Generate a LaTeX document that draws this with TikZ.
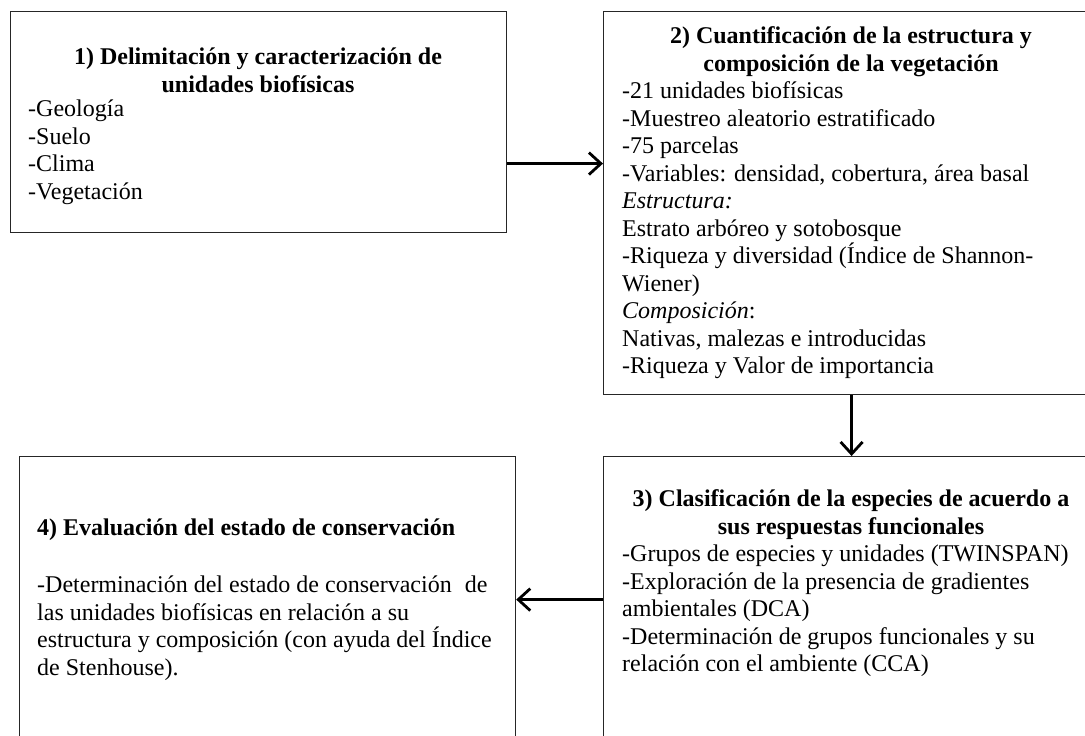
\documentclass[tikz,border=0pt]{standalone}
\usepackage{fontspec}
\setmainfont{Liberation Serif}
\usetikzlibrary{positioning,arrows.meta}

\begin{document}
\begin{tikzpicture}[x=1pt,y=1pt,
  caja/.style={draw=black!85, line width=1.2pt, minimum width=496pt, anchor=north west, inner sep=0pt},
  texto/.style={font=\fontsize{24}{27.5}\selectfont, inner sep=0pt, align=left, anchor=base west},
  titulo/.style={font=\bfseries\fontsize{24}{27.5}\selectfont, inner sep=0pt, align=center, anchor=base},
  flecha/.style={-{Straight Barb[length=12pt,width=22pt]}, line width=2.8pt}]
\useasboundingbox (0,0) rectangle (1085,736);
\clip (0,0) rectangle (1085,736);
% cajas
\node[caja, minimum height=221pt] (c1) at (10,725) {};
\node[caja, minimum height=383pt] (c2) at (603,725) {};
\node[caja, minimum height=286pt] (c3) at (603,280) {};
\node[caja, minimum height=286pt] (c4) at (19,280) {};
% textos (el ancla base va en la ultima linea)
\node[titulo] (t1) at (258,643.5) {1) Delimitación y caracterización de\\unidades biofísicas};
\node[texto] (l1) at (28,536.5) {-Geología\\-Suelo\\-Clima\\-Vegetación};
\node[titulo] (t2) at (851,664.5) {2) Cuantificación de la estructura y\\composición de la vegetación};
\node[texto] (l2) at (622,362) {-21 unidades biofísicas\\-Muestreo aleatorio estratificado\\-75 parcelas\\
  -Variables: densidad, cobertura, área basal\\\textit{Estructura:}\\Estrato arbóreo y sotobosque\\
  -Riqueza y diversidad (Índice de Shannon-\\Wiener)\\\textit{Composición}:\\
  Nativas, malezas e introducidas\\-Riqueza y Valor de importancia};
\node[titulo] (t3) at (851,201.5) {3) Clasificación de la especies de acuerdo a\\sus respuestas funcionales};
\node[texto] (l3) at (622,64) {-Grupos de especies y unidades (TWINSPAN)\\-Exploración de la presencia de gradientes\\
  ambientales (DCA)\\-Determinación de grupos funcionales y su\\relación con el ambiente (CCA)};
\node[texto, font=\bfseries\fontsize{24}{27.5}\selectfont] (t4) at (37,200) {4) Evaluación del estado de conservación};
\node[texto] (l4) at (37,60.5) {-Determinación del estado de conservación\hspace{0.3em} de\\las unidades biofísicas en relación a su\\
  estructura y composición (con ayuda del Índice\\de Stenhouse).};
% flechas
\draw[flecha] ([yshift=-41.5pt]c1.east) -- ([yshift=-41.5pt]c1.east -| c2.west);
\draw[flecha] (c2.south) -- (c3.north);
\draw[flecha] (c3.west) -- (c4.east);
\end{tikzpicture}
\end{document}
